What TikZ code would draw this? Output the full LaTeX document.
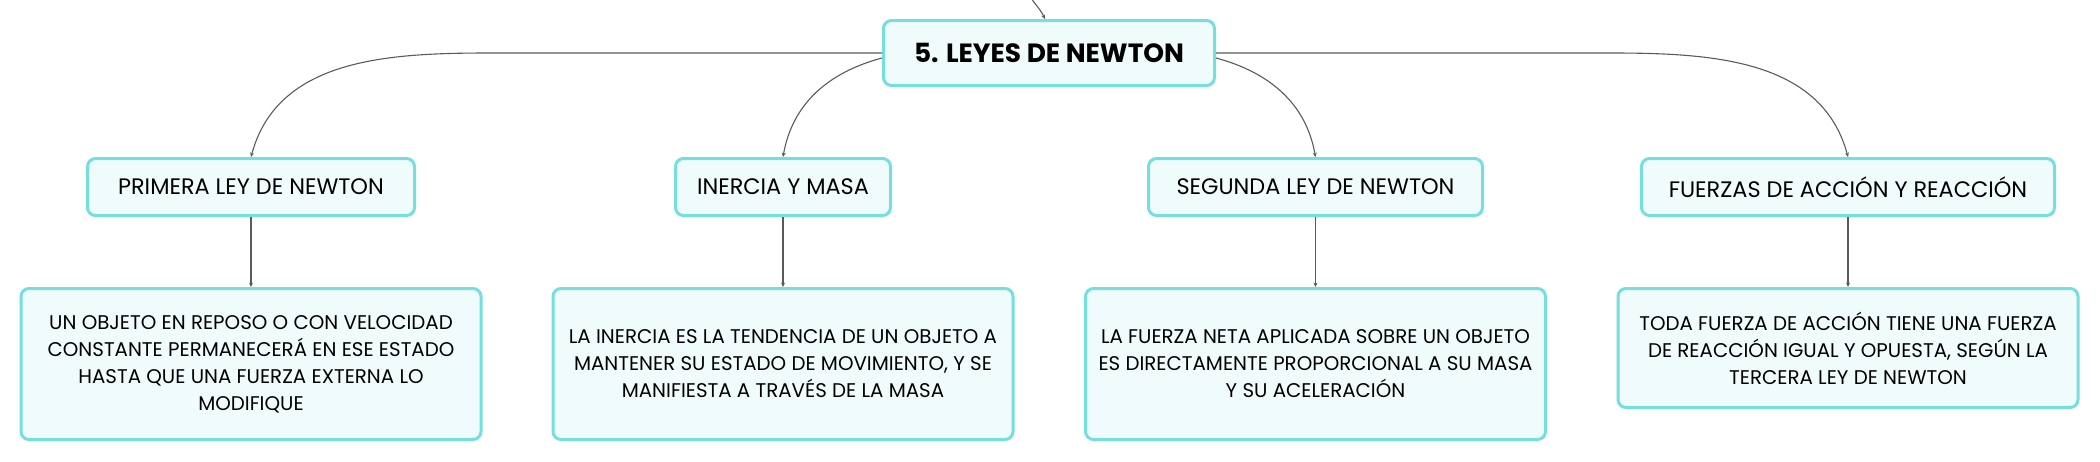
\documentclass[tikz,border=0pt]{standalone}
\usepackage{fontspec}
\setmainfont{Poppins}
\usepackage{xcolor}
\usetikzlibrary{positioning, arrows.meta}
\definecolor{boxline}{HTML}{74DEE0}
\definecolor{boxfill}{HTML}{F0FBFC}
\definecolor{linkgray}{HTML}{5A5A5A}

\begin{document}
\begin{tikzpicture}[x=0.5pt, y=0.5pt, node distance=35pt, >={Stealth[length=2.2pt, width=2pt]},
      topic/.style={draw=boxline, fill=boxfill, line width=1.5pt, rounded corners=4pt, align=center, inner sep=0pt},
      main/.style={topic, minimum width=165.5pt, minimum height=32.5pt, font=\fontsize{13.2}{15}\selectfont\bfseries},
      branch/.style={topic, minimum height=28.5pt, font=\fontsize{11.2}{13}\selectfont},
      leaf/.style={topic, minimum width=230pt, font=\fontsize{9.9}{13.5}\selectfont},
      link/.style={->, draw=linkgray, line width=0.55pt}]

    \useasboundingbox (0,0) rectangle (2100,-461);

    \node[main] (newton) at (1049,-53) {5. LEYES DE NEWTON};
    \coordinate (up) at (1031,2);

    \node[branch, minimum width=163.5pt] (primera) at (251,-187) {PRIMERA LEY DE NEWTON};
    \node[branch, minimum width=107.5pt] (inercia) at (783,-187) {INERCIA Y MASA};
    \node[branch, minimum width=167pt] (segunda) at (1315.5,-187) {SEGUNDA LEY DE NEWTON};
    \node[branch, minimum width=206.5pt] (accion) at (1848,-187) {FUERZAS DE ACCIÓN Y REACCIÓN};

    \node[leaf, minimum height=75.5pt, below=of primera] (primeratxt) {UN OBJETO EN REPOSO O CON VELOCIDAD\\CONSTANTE PERMANECERÁ EN ESE ESTADO\\HASTA QUE UNA FUERZA EXTERNA LO\\MODIFIQUE};
    \node[leaf, minimum height=75.5pt, below=of inercia] (inerciatxt) {LA INERCIA ES LA TENDENCIA DE UN OBJETO A\\MANTENER SU ESTADO DE MOVIMIENTO, Y SE\\MANIFIESTA A TRAVÉS DE LA MASA};
    \node[leaf, minimum height=75.5pt, below=of segunda] (segundatxt) {LA FUERZA NETA APLICADA SOBRE UN OBJETO\\ES DIRECTAMENTE PROPORCIONAL A SU MASA\\Y SU ACELERACIÓN};
    \node[leaf, minimum height=59.5pt, below=of accion] (acciontxt) {TODA FUERZA DE ACCIÓN TIENE UNA FUERZA\\DE REACCIÓN IGUAL Y OPUESTA, SEGÚN LA\\TERCERA LEY DE NEWTON};

    \draw[link] (up) to[out=-55, in=115] ([xshift=-2pt]newton.north);
    \draw[link] (newton.west) -- ++(-391,0) to[out=180, in=75] (primera.north);
    \draw[link] ([yshift=-2.5pt]newton.west) to[out=195, in=80] (inercia.north);
    \draw[link] ([yshift=-2.5pt]newton.east) to[out=-15, in=100] (segunda.north);
    \draw[link] (newton.east) -- ++(394,0) to[out=0, in=105] (accion.north);

    \draw[link] (primera) -- (primeratxt);
    \draw[link] (inercia) -- (inerciatxt);
    \draw[link] (segunda) -- (segundatxt);
    \draw[link] (accion) -- (acciontxt);
  \end{tikzpicture}
\end{document}
